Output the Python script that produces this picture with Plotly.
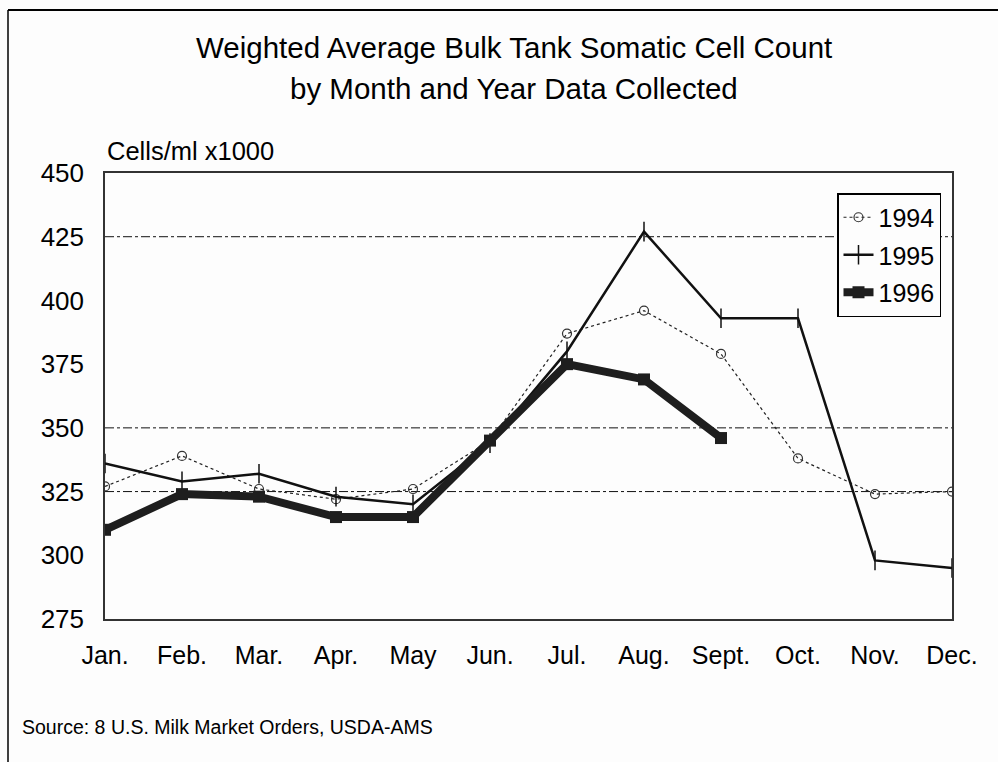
import plotly.graph_objects as go

months = ["Jan.", "Feb.", "Mar.", "Apr.", "May", "Jun.", "Jul.", "Aug.", "Sept.", "Oct.", "Nov.", "Dec."]
y1994 = [327, 339, 326, 322, 326, 345, 387, 396, 379, 338, 324, 325]
y1995 = [336, 329, 332, 323, 320, 344, 380, 427, 393, 393, 298, 295]
y1996 = [310, 324, 323, 315, 315, 345, 375, 369, 346]
grid_levels = [325, 350, 425]
y_ticks = [275, 300, 325, 350, 375, 400, 425, 450]

FONT = "Liberation Sans"
W, H = 998, 762
L, R, T, B = 105, 952, 173, 619

x_all = list(range(len(months)))

fig = go.Figure()
fig.add_trace(go.Scatter(
    x=x_all, y=y1994, name="1994", mode="lines+markers", legendgroup="a",
    line=dict(color="#222", width=1.2, dash="dot"),
    marker=dict(symbol="circle-open", size=9, color="#333", line=dict(width=1.2)),
))
fig.add_trace(go.Scatter(
    x=x_all, y=y1995, name="1995", mode="lines+markers", legendgroup="b",
    line=dict(color="#111", width=2.5),
    marker=dict(symbol="line-ns-open", size=14, color="#111", line=dict(width=1.5, color="#111")),
))
fig.add_trace(go.Scatter(
    x=x_all[:len(y1996)], y=y1996, name="1996", mode="lines+markers", legendgroup="c",
    line=dict(color="#1e1e1e", width=8),
    marker=dict(symbol="square", size=12, color="#1e1e1e"),
))

for g in grid_levels:
    fig.add_shape(type="line", xref="x", yref="y", x0=0, x1=11, y0=g, y1=g,
                  line=dict(color="#111", width=1, dash="dashdot"), layer="below")

def px(xp):
    return (xp - L) / (R - L)

def py(yp):
    return (B - yp) / (B - T)

# outer frame (top and left edges)
fig.add_shape(type="line", xref="paper", yref="paper", x0=px(8), x1=px(1000), y0=py(10), y1=py(10),
              line=dict(color="#000", width=2))
fig.add_shape(type="line", xref="paper", yref="paper", x0=px(8), x1=px(8), y0=py(10), y1=py(770),
              line=dict(color="#000", width=1.5))

annotations = [
    dict(text="Weighted Average Bulk Tank Somatic Cell Count", x=px(514), y=py(47), xref="paper", yref="paper",
         showarrow=False, font=dict(size=29.5, family=FONT, color="#000"), xanchor="center", yanchor="middle"),
    dict(text="by Month and Year Data Collected", x=px(514), y=py(88), xref="paper", yref="paper",
         showarrow=False, font=dict(size=29.5, family=FONT, color="#000"), xanchor="center", yanchor="middle"),
    dict(text="Cells/ml x1000", x=px(105), y=py(151), xref="paper", yref="paper",
         showarrow=False, font=dict(size=25.5, family=FONT, color="#000"), xanchor="left", yanchor="middle"),
    dict(text="Source: 8 U.S. Milk Market Orders, USDA-AMS", x=px(20), y=py(727), xref="paper", yref="paper",
         showarrow=False, font=dict(size=19.5, family=FONT, color="#000"), xanchor="left", yanchor="middle"),
]

fig.update_layout(
    width=W, height=H,
    margin=dict(l=L, r=W - R, t=T, b=H - B, pad=0),
    paper_bgcolor="#fdfdfd", plot_bgcolor="#fdfdfd",
    font=dict(family=FONT, color="#000"),
    showlegend=True,
    legend=dict(x=px(837), y=py(193), xanchor="left", yanchor="top",
                bgcolor="#fdfdfd", bordercolor="#000", borderwidth=1.5,
                font=dict(size=25, family=FONT, color="#000"),
                tracegroupgap=2, itemwidth=30),
    annotations=annotations,
)
fig.update_xaxes(range=[0, 11], tickvals=x_all, ticktext=months, showgrid=False, zeroline=False,
                 showline=True, linecolor="#333", linewidth=1.5, mirror=True,
                 tickfont=dict(size=25, family=FONT, color="#000"), ticks="", ticklabelstandoff=13)
fig.update_yaxes(range=[275, 450], tickvals=y_ticks, showgrid=False, zeroline=False,
                 showline=True, linecolor="#333", linewidth=1.5, mirror=True,
                 tickfont=dict(size=26, family=FONT, color="#000"), ticks="", ticklabelstandoff=14)

fig.write_html("out.html")
